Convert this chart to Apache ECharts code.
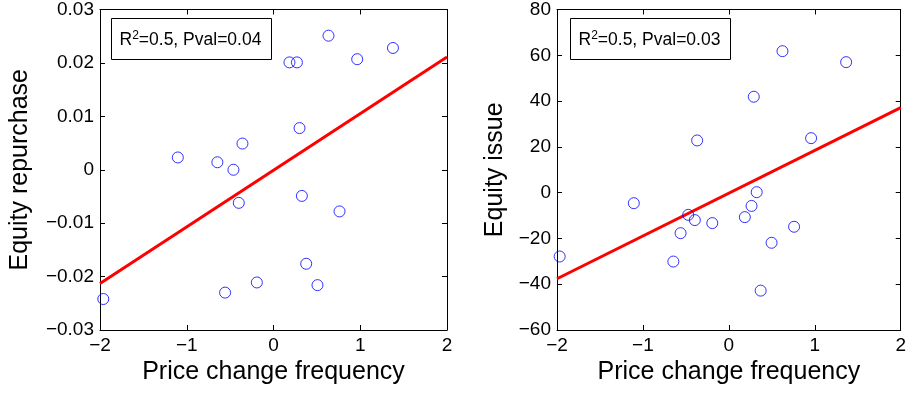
<!DOCTYPE html>
<html><head><meta charset="utf-8">
<script src="https://cdn.jsdelivr.net/npm/echarts@6/dist/echarts.min.js"></script>
<style>html,body{margin:0;padding:0;background:#fff}#c{width:909px;height:394px}</style>
</head><body><div id="c"></div>
<script>
// Shared x values (price change frequency)
const priceChange = [0.634, 1.377, 0.184, 0.270, 0.965, 0.300, -0.358, -1.103, -0.647, -0.462, 0.327, -0.400, 0.761, 0.377, -0.192, 0.507, -0.558, -1.962];
const repurchase  = [0.0251, 0.0228, 0.0201, 0.0201, 0.0207, 0.0078, 0.0049, 0.0023, 0.0014, 0.0000, -0.0049, -0.0062, -0.0078, -0.0176, -0.0211, -0.0216, -0.0230, -0.0242];

const issueX = [0.624, 1.365, 0.290, -0.369, 0.957, 0.324, -1.106, -0.473, -0.396, 0.264, 0.186, -0.193, -0.562, 0.759, 0.497, -1.969, -0.646, 0.370];
const issueY = [61.8, 57.0, 41.9, 22.8, 23.8, 0.2, -4.6, -9.7, -12.0, -5.8, -10.7, -13.3, -17.7, -14.9, -21.9, -27.9, -30.1, -42.8];

const fitLeftX = [-2, 2];
const fitLeftY = [-0.0213, 0.0211];
const fitRightX = [-2, 2];
const fitRightY = [-37.6, 37.1];

const xTickRange = {min: -2, max: 2, interval: 1};
const yLeftRange = {min: -0.03, max: 0.03, interval: 0.01};
const yRightRange = {min: -60, max: 80, interval: 20};

const statsLeft = {r2: '0.5', pval: '0.04'};
const statsRight = {r2: '0.5', pval: '0.03'};

const FONT = '"Liberation Sans", Arial, Helvetica, sans-serif';
const zip = (a, b) => a.map((v, i) => [v, b[i]]);
const minus = v => String(v).replace('-', '\u2212');

function xAxes(gridIndex, name) {
  const base = {
    gridIndex, type: 'value', min: xTickRange.min, max: xTickRange.max, interval: xTickRange.interval,
    axisLine: {show: true, onZero: false, lineStyle: {color: '#000', width: 1}},
    axisTick: {show: true, inside: true, length: 5, lineStyle: {color: '#000'}},
    splitLine: {show: false}
  };
  return [
    Object.assign({}, base, {
      position: 'bottom', name, nameLocation: 'middle', nameGap: 29,
      nameTextStyle: {fontFamily: FONT, fontSize: 25, color: '#000'},
      axisLabel: {fontFamily: FONT, fontSize: 19, color: '#000', margin: 6, formatter: minus}
    }),
    Object.assign({}, base, {position: 'top', axisLabel: {show: false}})
  ];
}
function yAxes(gridIndex, range, name, gap) {
  const base = {
    gridIndex, type: 'value', min: range.min, max: range.max, interval: range.interval,
    axisLine: {show: true, onZero: false, lineStyle: {color: '#000', width: 1}},
    axisTick: {show: true, inside: true, length: 5, lineStyle: {color: '#000'}},
    splitLine: {show: false}
  };
  return [
    Object.assign({}, base, {
      position: 'left', name, nameLocation: 'middle', nameGap: gap, nameRotate: 90,
      nameTextStyle: {fontFamily: FONT, fontSize: 25, color: '#000'},
      axisLabel: {fontFamily: FONT, fontSize: 19, color: '#000', margin: 6,
        formatter: v => minus(+v.toFixed(2))}
    }),
    Object.assign({}, base, {position: 'right', axisLabel: {show: false}})
  ];
}
function scatter(xi, yi, data) {
  return {type: 'scatter', xAxisIndex: xi, yAxisIndex: yi, data, symbol: 'circle', symbolSize: 11,
    itemStyle: {color: 'rgba(0,0,0,0)', borderColor: '#0000ff', borderWidth: 1}, z: 3, silent: true};
}
function fit(xi, yi, data) {
  return {type: 'line', xAxisIndex: xi, yAxisIndex: yi, data, showSymbol: false, symbol: 'none',
    lineStyle: {color: '#ff0000', width: 3}, z: 2, silent: true};
}
function statBox(left, stats) {
  return {
    type: 'group', left, top: 18,
    children: [
      {type: 'rect', shape: {x: 0, y: 0, width: 160, height: 41},
        style: {fill: '#fff', stroke: '#000', lineWidth: 1}},
      {type: 'text', x: 8, y: 21,
        style: {text: '{t|R}{s|2}{t|=' + stats.r2 + ', Pval=' + stats.pval + '}', verticalAlign: 'middle',
          rich: {t: {fontFamily: FONT, fontSize: 17.5, fill: '#000', verticalAlign: 'bottom', lineHeight: 20},
                 s: {fontFamily: FONT, fontSize: 12, fill: '#000', verticalAlign: 'top', lineHeight: 20, padding: [0,0,7,0]}}}}
    ]
  };
}

const chart = echarts.init(document.getElementById('c'), null, {renderer: 'canvas'});
chart.setOption({
  backgroundColor: '#fff',
  animation: false,
  grid: [
    {left: 100, top: 7, width: 347, height: 323},
    {left: 557, top: 7, width: 348, height: 323}
  ],
  xAxis: [...xAxes(0, 'Price change frequency'), ...xAxes(1, 'Price change frequency')],
  yAxis: [...yAxes(0, yLeftRange, 'Equity repurchase', 67), ...yAxes(1, yRightRange, 'Equity issue', 49)],
  series: [
    fit(0, 0, zip(fitLeftX, fitLeftY)),
    scatter(0, 0, zip(priceChange, repurchase)),
    fit(2, 2, zip(fitRightX, fitRightY)),
    scatter(2, 2, zip(issueX, issueY))
  ],
  graphic: [statBox(111, statsLeft), statBox(570, statsRight)]
});
</script></body></html>
